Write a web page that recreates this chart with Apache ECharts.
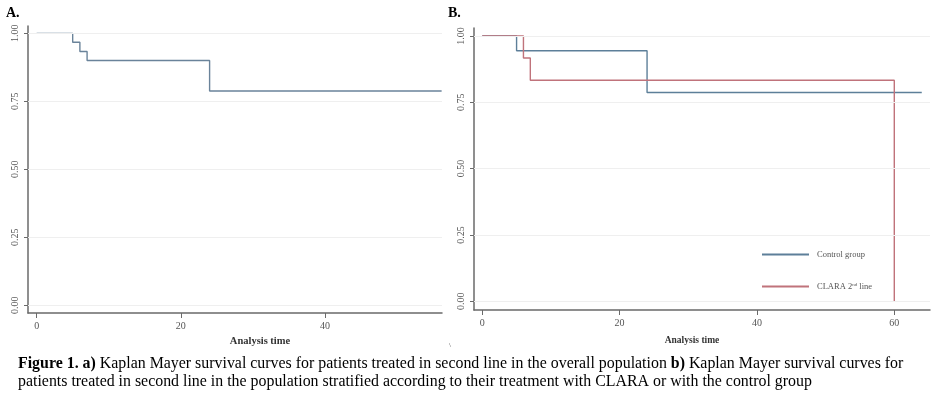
<!DOCTYPE html>
<html><head><meta charset="utf-8">
<script src="https://cdn.jsdelivr.net/npm/echarts@6/dist/echarts.min.js"></script>
<style>html,body{margin:0;padding:0;background:#fff}#c{width:932px;height:394px}</style>
</head><body><div id="c"></div>
<script>
// ---- data ----
const overallTime = [0, 5, 6, 7, 24, 56.2];
const overallSurv = [1, 0.967, 0.933, 0.9, 0.788, 0.788];
const controlTime = [0, 5, 24, 64];
const controlSurv = [1, 0.944, 0.787, 0.787];
const claraTime = [0, 6, 7, 60];
const claraSurv = [1, 0.917, 0.833, 0];
const seriesNames = ['Control group', 'CLARA 2nd line'];
const yTicks = [0, 0.25, 0.5, 0.75, 1];
const xTicksA = [0, 20, 40];
const xTicksB = [0, 20, 40, 60];
const panelLabels = ['A.', 'B.'];
const xAxisTitle = 'Analysis time';
const captionLine1 = '{b|Figure 1. a)} Kaplan Mayer survival curves for patients treated in second line in the overall population {b|b)} Kaplan Mayer survival curves for';
const captionLine2 = 'patients treated in second line in the population stratified according to their treatment with CLARA or with the control group';

const pairs = (xs, ys) => xs.map((x, i) => [x, ys[i]]);
const SERIF = '"Liberation Serif","Times New Roman",serif';
const axisCol = '#6a6a6a';

function xAx(idx, min, max, ticks) {
  return {
    type: 'value', gridIndex: idx, min: min, max: max,
    axisLine: {show: true, onZero: false, lineStyle: {color: axisCol, width: 1.5}},
    axisTick: {show: true, length: 5, customValues: ticks, lineStyle: {color: axisCol}},
    axisLabel: {customValues: ticks, margin: 8, fontFamily: SERIF, fontSize: 10, color: '#555'},
    splitLine: {show: false}
  };
}
function yAx(idx, min, max) {
  return {
    type: 'value', gridIndex: idx, min: min, max: max,
    axisLine: {show: true, onZero: false, lineStyle: {color: axisCol, width: 1.5}},
    axisTick: {show: true, length: 4, customValues: yTicks, lineStyle: {color: axisCol}},
    axisLabel: {customValues: yTicks, rotate: 90, margin: 8, fontFamily: SERIF, fontSize: 10, color: '#555',
      formatter: v => v.toFixed(2)},
    splitLine: {show: false}
  };
}
function gridLines(idx, data) {
  return {
    type: 'line', xAxisIndex: idx, yAxisIndex: idx, data: data, silent: true, z: 1,
    symbol: 'none', lineStyle: {opacity: 0}, tooltip: {show: false},
    markLine: {silent: true, symbol: 'none', label: {show: false}, animation: false,
      lineStyle: {color: '#efefef', width: 1, type: 'solid'},
      data: yTicks.map(v => ({yAxis: v}))}
  };
}

const chart = echarts.init(document.getElementById('c'));
chart.setOption({
  animation: false,
  backgroundColor: '#fff',
  grid: [
    {left: 28, top: 26, width: 414, height: 287},
    {left: 474, top: 28, width: 456, height: 282}
  ],
  xAxis: [xAx(0, -1.2, 56.25, xTicksA), xAx(1, -1.2, 65.2, xTicksB)],
  yAxis: [yAx(0, -0.0285, 1.027), yAx(1, -0.033, 1.030)],
  legend: {
    data: seriesNames, orient: 'vertical', left: 761, top: 249, padding: 0,
    itemWidth: 47, itemHeight: 14, itemGap: 20.7,
    itemStyle: {opacity: 0},
    textStyle: {fontFamily: SERIF, fontSize: 8.5, color: '#555', padding: [0, 0, 0, 3],
      rich: {sup: {fontSize: 5, fontFamily: SERIF, color: '#555', verticalAlign: 'top', padding: [0, 0, 4, 0]}}},
    formatter: n => n.replace('2nd', '2{sup|nd}')
  },
  series: [
    gridLines(0, pairs(overallTime, overallSurv)),
    gridLines(1, pairs(controlTime, controlSurv)),
    {type: 'line', name: 'Overall', xAxisIndex: 0, yAxisIndex: 0, step: 'end', z: 3,
      symbol: 'none', data: pairs(overallTime, overallSurv),
      lineStyle: {color: '#6a839a', width: 1.4}, itemStyle: {color: '#6a839a'}},
    {type: 'line', name: seriesNames[0], xAxisIndex: 1, yAxisIndex: 1, step: 'end', z: 3,
      symbol: 'none', data: pairs(controlTime, controlSurv),
      lineStyle: {color: '#5d7f99', width: 1.4}, itemStyle: {color: '#5d7f99'}},
    {type: 'line', name: seriesNames[1], xAxisIndex: 1, yAxisIndex: 1, step: 'end', z: 3,
      symbol: 'none', data: pairs(claraTime, claraSurv),
      lineStyle: {color: '#c0737b', width: 1.4}, itemStyle: {color: '#c0737b'}}
  ],
  graphic: [
    {type: 'text', left: 6, top: 6, style: {text: panelLabels[0], font: 'bold 14px ' + SERIF, fill: '#000'}},
    {type: 'text', left: 448, top: 6, style: {text: panelLabels[1], font: 'bold 14px ' + SERIF, fill: '#000'}},
    {type: 'text', x: 260, y: 341, style: {text: xAxisTitle, x: 0, y: 0, textAlign: 'center', textVerticalAlign: 'middle', font: 'bold 10.5px ' + SERIF, fill: '#333'}},
    {type: 'text', x: 692, y: 341, style: {text: xAxisTitle, x: 0, y: 0, textAlign: 'center', textVerticalAlign: 'middle', font: 'bold 9.5px ' + SERIF, fill: '#333'}},
    {type: 'text', x: 450, y: 345, style: {text: '\\', x: 0, y: 0, textAlign: 'center', textVerticalAlign: 'middle', font: '7px ' + SERIF, fill: '#555'}},
    {type: 'text', left: 18, top: 355, style: {text: captionLine1 + '\n' + captionLine2, font: '15.9px ' + SERIF, fill: '#000', lineHeight: 18,
      rich: {b: {fontWeight: 'bold', fontFamily: SERIF, fontSize: 15.9, lineHeight: 18, fill: '#000'}}}}
  ]
});
</script>
</body></html>
